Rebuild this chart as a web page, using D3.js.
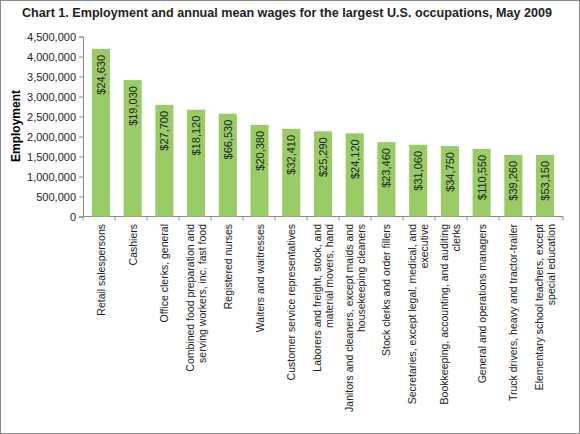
<!DOCTYPE html><html><head><meta charset="utf-8"><script src="https://cdn.jsdelivr.net/npm/d3@7"></script>
<style>body{margin:0}text{font-family:"Liberation Sans",sans-serif}</style></head><body><svg width="580" height="434"></svg><script>
const categories=[["Retail salespersons"],["Cashiers"],["Office clerks, general"],["Combined food preparation and","serving workers, inc. fast food"],["Registered nurses"],["Waiters and waitresses"],["Customer service representatives"],["Laborers and freight, stock, and","material movers, hand"],["Janitors and cleaners, except maids and","housekeeping cleaners"],["Stock clerks and order fillers"],["Secretaries, except legal, medical, and","executive"],["Bookkeeping, accounting, and auditing","clerks"],["General and operations managers"],["Truck drivers, heavy and tractor-trailer"],["Elementary school teachers, except","special education"]];
const employment=[4190000,3410000,2790000,2670000,2570000,2290000,2190000,2130000,2080000,1860000,1790000,1760000,1690000,1540000,1540000];
const wages=["$24,630","$19,030","$27,700","$18,120","$66,530","$20,380","$32,410","$25,290","$24,120","$23,460","$31,060","$34,750","$110,550","$39,260","$53,150"];
const yTicks=[0,500000,1000000,1500000,2000000,2500000,3000000,3500000,4000000,4500000];
const svg=d3.select("svg");
svg.append("rect").attr("x",0.5).attr("y",0.5).attr("width",579).attr("height",433).attr("fill","#fff").attr("stroke","#888");
svg.append("text").attr("x",22).attr("y",17).attr("font-size",13).attr("font-weight","bold").attr("fill","#222")
 .attr("textLength",530).attr("lengthAdjust","spacingAndGlyphs").text("Chart 1. Employment and annual mean wages for the largest U.S. occupations, May 2009");
const x=d3.scaleBand().domain(d3.range(15)).range([83,563]).paddingInner(0.43).paddingOuter(0.28);
const y=d3.scaleLinear().domain([0,4500000]).range([216.5,36.5]);
const ga=svg.append("g").attr("transform","translate(83,0)").call(d3.axisLeft(y).tickValues(yTicks).tickFormat(d3.format(",")).tickSize(4));
ga.selectAll("text").attr("font-size",11).attr("fill","#222").attr("font-family","Liberation Sans, sans-serif");
ga.selectAll("line,path").attr("stroke","#888");
svg.append("line").attr("x1",83).attr("x2",563).attr("y1",216.5).attr("y2",216.5).attr("stroke","#888");
svg.selectAll(".xt").data(d3.range(16)).join("line").attr("x1",d=>83+d*32).attr("x2",d=>83+d*32).attr("y1",216.5).attr("y2",220.5).attr("stroke","#888");
svg.append("text").attr("transform","translate(20,126) rotate(-90)").attr("text-anchor","middle").attr("font-size",12).attr("font-weight","bold").text("Employment");
svg.selectAll(".bar").data(employment).join("rect").attr("x",(d,i)=>x(i)).attr("width",x.bandwidth()).attr("y",d=>y(d)).attr("height",d=>216.5-y(d)).attr("fill","#99cc66");
svg.selectAll(".wl").data(wages).join("text").attr("font-size",11).attr("fill","#222").attr("text-anchor","end")
 .attr("transform",(d,i)=>`translate(${x(i)+x.bandwidth()/2+4},${y(employment[i])+6}) rotate(-90)`).text(d=>d);
categories.forEach((lines,i)=>{
 const cx=x(i)+x.bandwidth()/2;
 const t=svg.append("text").attr("font-size",10.5).attr("fill","#222").attr("text-anchor","end")
  .attr("transform",`translate(${cx},224) rotate(-90)`);
 const n=lines.length;
 lines.forEach((l,j)=>t.append("tspan").attr("x",0).attr("y",(j-(n-1)/2)*12+4).text(l));
});
</script></body></html>
